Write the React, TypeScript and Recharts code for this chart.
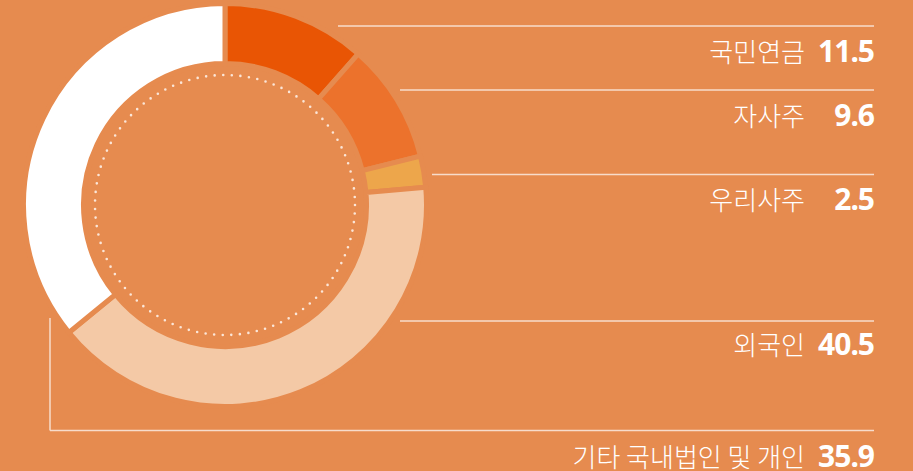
import React from "react";
import { PieChart, Pie, Cell } from "recharts";

const categories = ["국민연금", "자사주", "우리사주", "외국인", "기타 국내법인 및 개인"];
const shares = [11.5, 9.6, 2.5, 40.5, 35.9];
const valueLabels = ["11.5", "9.6", "2.5", "40.5", "35.9"];

const colors = ["#E95504", "#EC722C", "#EDA64B", "#F4C9A6", "#FFFFFF"];
const BG = "#E68B4F";

// layout of the label rows (positions only)
const rowLineY = [26, 90, 174.5, 321, 430.5];
const rowLineX = [338, 400, 432, 400, 50];
const rowBaseline = [62, 126, 210, 355, 467];

const data = categories.map((name, i) => ({ name, value: shares[i], label: valueLabels[i] }));

const renderLabel = (props: any) => {
  const { index, cx, cy } = props;
  const lineY = rowLineY[index];
  const x0 = rowLineX[index];
  const base = rowBaseline[index];
  const d = data[index];
  return (
    <g key={`lbl-${index}`}>
      {index === 0 && (
        <circle
          cx={cx}
          cy={cy}
          r={130}
          fill="none"
          stroke="#FBE6D8"
          strokeWidth={2.6}
          strokeDasharray="0 8.6"
          strokeLinecap="round"
        />
      )}
      {index === 4 && (
        <line x1={x0} y1={318} x2={x0} y2={lineY} stroke="#F7DCCB" strokeWidth={1.5} />
      )}
      <line x1={x0} y1={lineY} x2={874} y2={lineY} stroke="#F7DCCB" strokeWidth={1.5} />
      <text
        x={805}
        y={base}
        textAnchor="end"
        fill="#FFFFFF"
        fontFamily="'Noto Sans CJK KR', 'Noto Sans', sans-serif"
        fontWeight={300}
        fontSize={26}
      >
        {d.name}
      </text>
      <text
        x={874}
        y={base}
        textAnchor="end"
        fill="#FFFFFF"
        fontFamily="'Noto Sans', sans-serif"
        fontWeight={700}
        fontSize={30}
        letterSpacing={-1}
      >
        {d.label}
      </text>
    </g>
  );
};

export default function App() {
  return (
    <div
      style={{
        position: "absolute",
        left: 0,
        top: 0,
        width: 913,
        height: 471,
        background: BG,
        overflow: "hidden",
      }}
    >
      <PieChart width={913} height={471} margin={{ top: 0, right: 0, bottom: 0, left: 0 }}>
        <Pie
          data={data}
          dataKey="value"
          nameKey="name"
          cx={225}
          cy={205}
          innerRadius={141.5}
          outerRadius={201.5}
          startAngle={90}
          endAngle={-270}
          stroke={BG}
          strokeWidth={5}
          label={renderLabel}
          labelLine={false}
          isAnimationActive={false}
        >
          {data.map((d, i) => (
            <Cell key={d.name} fill={colors[i]} />
          ))}
        </Pie>
      </PieChart>
    </div>
  );
}
